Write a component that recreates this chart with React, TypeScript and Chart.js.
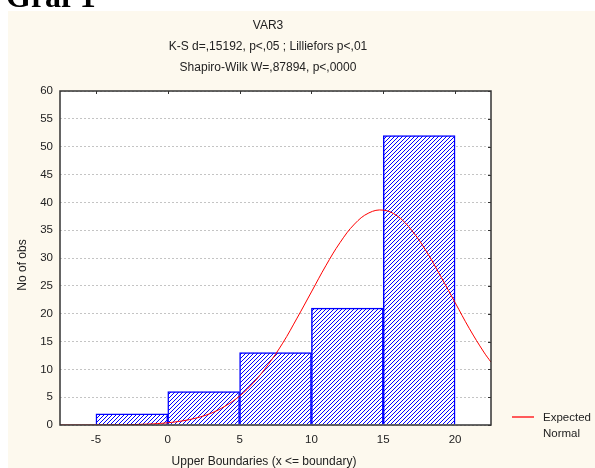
import React, { useEffect, useRef } from "react";
import { Chart, registerables } from "chart.js";

Chart.register(...registerables);

// Histogram bins (centers of 5-wide classes) and counts
const binCenters = [-2.5, 2.5, 7.5, 12.5, 17.5];
const binCounts = [2, 6, 13, 21, 52];

// Expected normal curve
const curveX = [-7.5, -6, -5, -4, -3, -2, -1, 0, 1, 2, 3, 4, 5, 6, 7, 8, 9, 10, 11, 12, 13, 14, 15, 16, 17, 18, 19, 20, 21, 22, 22.5];
const curveY = [0, 0, 0.01, 0.03, 0.05, 0.11, 0.21, 0.4, 0.73, 1.27, 2.1, 3.4, 5.2, 7.7, 10.9, 14.7, 19.2, 23.9, 28.6, 32.8, 36.1, 38.1, 38.6, 37.5, 34.9, 31.2, 26.7, 22.0, 17.3, 13.1, 11.3];

const xTicks = [-5, 0, 5, 10, 15, 20];
const titleLines = ["VAR3", "K-S d=,15192, p<,05 ; Lilliefors p<,01", "Shapiro-Wilk W=,87894, p<,0000"];
const xTitle = "Upper Boundaries (x <= boundary)";
const yTitle = "No of obs";
const legendLines = ["Expected", "Normal"];

const FONT = '"Liberation Sans", Arial, sans-serif';

function makeHatch(): CanvasPattern | string {
  const s = 4;
  const c = document.createElement("canvas");
  c.width = s;
  c.height = s;
  const g = c.getContext("2d");
  if (!g) return "#fff";
  g.fillStyle = "#ffffff";
  g.fillRect(0, 0, s, s);
  g.strokeStyle = "#0000ff";
  g.lineWidth = 1;
  g.beginPath();
  g.moveTo(-1, s + 1);
  g.lineTo(s + 1, -1);
  g.moveTo(-1, 1);
  g.lineTo(1, -1);
  g.moveTo(s - 1, s + 1);
  g.lineTo(s + 1, s - 1);
  g.stroke();
  const p = g.createPattern(c, "repeat");
  return p || "#fff";
}

const decor = {
  id: "decor",
  beforeDraw(chart: any) {
    const { ctx, chartArea: a, width, height } = chart;
    ctx.save();
    ctx.fillStyle = "#fdf9ee";
    ctx.fillRect(0, 0, width, height);
    ctx.fillStyle = "#ffffff";
    ctx.fillRect(a.left, a.top, a.right - a.left, a.bottom - a.top);
    ctx.restore();
  },
  afterDraw(chart: any) {
    const { ctx, chartArea: a } = chart;
    const xs = chart.scales.x;
    const ys = chart.scales.y;
    ctx.save();
    // frame
    ctx.strokeStyle = "#333333";
    ctx.lineWidth = 1.5;
    ctx.strokeRect(a.left, a.top, a.right - a.left, a.bottom - a.top);
    // inward ticks top and right
    ctx.lineWidth = 1;
    ctx.beginPath();
    xTicks.forEach((v) => {
      const px = Math.round(xs.getPixelForValue(v)) + 0.5;
      ctx.moveTo(px, a.top);
      ctx.lineTo(px, a.top + 3);
    });
    ys.ticks.forEach((t: any) => {
      const py = Math.round(ys.getPixelForValue(t.value)) + 0.5;
      ctx.moveTo(a.right, py);
      ctx.lineTo(a.right - 3, py);
    });
    ctx.stroke();

    ctx.fillStyle = "#222222";
    ctx.font = `12px ${FONT}`;
    ctx.textAlign = "center";
    ctx.textBaseline = "middle";
    const cx = 260;
    const tys = [15, 36, 57];
    titleLines.forEach((t, i) => ctx.fillText(t, cx, tys[i]));
    // x title
    ctx.fillText(xTitle, 256, 451);
    // y title
    ctx.save();
    ctx.translate(15, 254);
    ctx.rotate(-Math.PI / 2);
    ctx.fillText(yTitle, 0, 0);
    ctx.restore();
    // legend
    ctx.strokeStyle = "#ff5a5a";
    ctx.lineWidth = 2;
    ctx.beginPath();
    ctx.moveTo(504, 406);
    ctx.lineTo(526, 406);
    ctx.stroke();
    ctx.font = `11.5px ${FONT}`;
    ctx.textAlign = "left";
    ctx.fillText(legendLines[0], 535, 407);
    ctx.fillText(legendLines[1], 535, 423);
    ctx.restore();
  },
};

export default function App() {
  const ref = useRef<HTMLCanvasElement | null>(null);
  useEffect(() => {
    if (!ref.current) return;
    const hatch = makeHatch();
    const chart = new Chart(ref.current, {
      type: "bar",
      data: {
        datasets: [
          {
            type: "line",
            label: "Expected Normal",
            data: curveX.map((x, i) => ({ x, y: curveY[i] })),
            borderColor: "#ff0000",
            borderWidth: 1,
            pointRadius: 0,
            tension: 0.4,
            fill: false,
            order: 0,
          } as any,
          {
            type: "bar",
            label: "VAR3",
            data: binCenters.map((x, i) => ({ x, y: binCounts[i] })),
            backgroundColor: hatch as any,
            borderColor: "#0000ff",
            borderWidth: 1.5,
            barPercentage: 1,
            categoryPercentage: 1,
            order: 1,
          } as any,
        ],
      },
      options: {
        animation: false,
        responsive: false,
        devicePixelRatio: 1,
        layout: { padding: { left: 0, right: 104, top: 80, bottom: 0 } },
        plugins: { legend: { display: false }, tooltip: { enabled: false }, title: { display: false } },
        scales: {
          x: {
            type: "linear",
            offset: false,
            min: -7.5,
            max: 22.5,
            grid: { display: false, drawTicks: false },
            border: { display: false },
            ticks: {
              padding: 8,
              color: "#222222",
              font: { family: FONT, size: 11.5 },
              maxRotation: 0,
              autoSkip: false,
            },
            afterBuildTicks: (s: any) => {
              s.ticks = xTicks.map((v) => ({ value: v }));
            },
            afterFit: (s: any) => {
              s.height = 43;
            },
          },
          y: {
            min: 0,
            max: 60,
            grid: { color: "#c4c4c4", borderDash: [2, 2], drawTicks: false } as any,
            border: { display: false, dash: [2, 2] } as any,
            ticks: {
              stepSize: 5,
              padding: 7,
              color: "#222222",
              font: { family: FONT, size: 11.5 },
            },
            afterFit: (s: any) => {
              s.width = 52;
            },
          },
        },
      } as any,
      plugins: [decor],
    });
    return () => chart.destroy();
  }, []);

  return (
    <div>
      <div
        style={{
          position: "fixed",
          left: 6,
          top: -20,
          font: 'bold 32px "Liberation Serif", "Times New Roman", serif',
          color: "#000",
          lineHeight: "32px",
          whiteSpace: "nowrap",
        }}
      >
        Graf 1
      </div>
      <div style={{ position: "fixed", left: 8, top: 11, width: 587, height: 457 }}>
        <canvas ref={ref} width={587} height={457} style={{ width: 587, height: 457, display: "block" }} />
      </div>
    </div>
  );
}
